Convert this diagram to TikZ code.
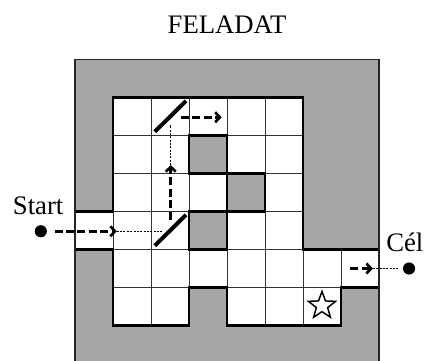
\documentclass[tikz,border=0pt]{standalone}
\usepackage{fontspec}
\setmainfont{Liberation Serif}
\usetikzlibrary{arrows.meta,shapes.geometric}
\definecolor{wallgray}{RGB}{166,166,166}
\tikzset{
  cellline/.style={draw=black!80, line width=0.6pt},
  border/.style={draw=black, line width=1.6pt, line join=miter, line cap=rect},
  outerbox/.style={draw=black!85, line width=1.3pt},
  beam/.style={line width=2pt, dash pattern=on 6pt off 2.6pt, -{Straight Barb[length=3.5pt,width=7.5pt]}},
  trace/.style={line width=0.7pt, dash pattern=on 1.5pt off 1pt},
  mirror/.style={line width=3pt},
  dot/.style={circle, fill=black, inner sep=0pt, minimum size=0.32cm},
  lbl/.style={font=\fontsize{20}{24}\selectfont, inner sep=0pt},
  goalstar/.style={star, star points=5, star point ratio=2.4, draw, line width=1.1pt, minimum size=0.75cm, inner sep=0pt}
}
\begin{document}
\begin{tikzpicture}
\clip (-2.974,2.566) rectangle (8.263,-6.908);
\fill[white] (-2.974,2.566) rectangle (8.263,-6.908);
% walls
\fill[wallgray] (-1,1) rectangle (7,-8);
% free area
\fill[white] (0,0) -- (5,0) -- (5,-4) -- (7,-4) -- (7,-5) -- (6,-5) -- (6,-6) -- (3,-6) -- (3,-5) -- (2,-5) -- (2,-6) -- (0,-6) -- (0,-4) -- (-1,-4) -- (-1,-3) -- (0,-3) -- cycle;
% grid
\foreach \c/\r in {0/0,1/0,2/0,3/0,4/0,
                   0/1,1/1,3/1,4/1,
                   0/2,1/2,2/2,4/2,
                   -1/3,0/3,1/3,3/3,4/3,
                   0/4,1/4,2/4,3/4,4/4,5/4,6/4,
                   0/5,1/5,3/5,4/5,5/5}
  \draw[cellline] (\c,-\r) rectangle ++(1,-1);
% inner walls
\foreach \c/\r in {2/1,3/2,2/3}
  \fill[wallgray] (\c,-\r) rectangle ++(1,-1);
% thick borders
\draw[border] (-1,-3) -- (0,-3) -- (0,0) -- (5,0) -- (5,-4) -- (7,-4);
\draw[border] (7,-5) -- (6,-5) -- (6,-6) -- (3,-6) -- (3,-5) -- (2,-5) -- (2,-6) -- (0,-6) -- (0,-4) -- (-1,-4);
\foreach \c/\r in {2/1,3/2,2/3}
  \draw[border] (\c,-\r) rectangle ++(1,-1);
\draw[outerbox] (-1,1) rectangle (7,-8);
% labels
\node[lbl, anchor=base] (title) at (3.0,1.69) {FELADAT};
\node[lbl, anchor=base] (start) at (-1.97,-3.09) {Start};
\node[lbl, anchor=base] (cel) at (7.68,-4.06) {Cél};
% mirrors
\coordinate (m1a) at (1.1,-3.9);
\coordinate (m1b) at (1.92,-3.09);
\coordinate (m2a) at (1.1,-0.9);
\coordinate (m2b) at (1.92,-0.09);
\draw[mirror] (m1a) -- (m1b);
\draw[mirror] (m2a) -- (m2b);
% star
\node[goalstar] (goal) at (5.5,-5.48) {};
% beam from start
\node[dot] (startdot) at (-1.9,-3.52) {};
\coordinate (a1) at (0.1,-3.52);
\coordinate (a2) at (1.29,-3.52);
\draw[beam, shorten <=5.5pt] (startdot) -- (a1);
\draw[trace] (a1) -- (a2);
% vertical beam
\coordinate (b0) at (1.52,-3.22);
\coordinate (b1) at (1.52,-1.78);
\coordinate (b2) at (1.52,-0.72);
\draw[beam] (b0) -- (b1);
\draw[trace] (b1) -- (b2);
% horizontal upper beam
\coordinate (c0) at (1.78,-0.52);
\coordinate (c1) at (2.86,-0.52);
\draw[beam] (c0) -- (c1);
% exit
\coordinate (e0) at (6.24,-4.5);
\coordinate (e1) at (6.84,-4.5);
\node[dot] (celdot) at (7.79,-4.5) {};
\draw[beam] (e0) -- (e1);
\draw[trace, shorten >=3pt] (e1) -- (celdot);
\end{tikzpicture}
\end{document}
